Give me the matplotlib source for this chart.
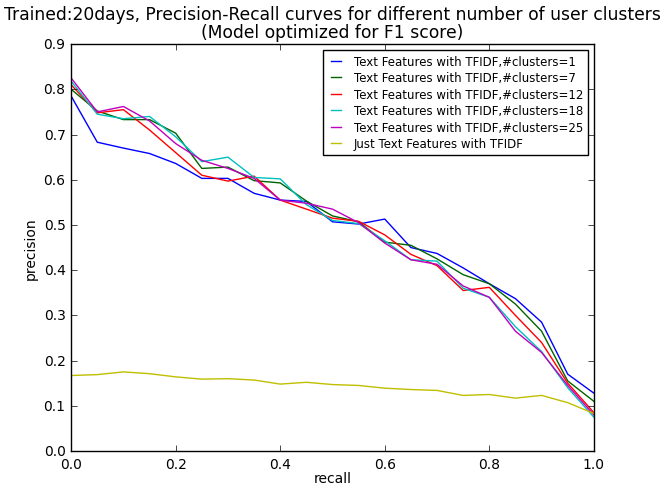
import matplotlib
matplotlib.use('Agg')
import matplotlib.pyplot as plt
import numpy as np

plt.style.use('classic')

recall = [0.0, 0.05, 0.1, 0.15, 0.2, 0.25, 0.3, 0.35, 0.4, 0.45, 0.5,
          0.55, 0.6, 0.65, 0.7, 0.75, 0.8, 0.85, 0.9, 0.95, 1.0]

prec_c1 = [0.785, 0.683, 0.670, 0.658, 0.636, 0.603, 0.603, 0.570, 0.555, 0.552, 0.507,
           0.502, 0.513, 0.450, 0.437, 0.405, 0.370, 0.337, 0.285, 0.170, 0.128]
prec_c7 = [0.800, 0.752, 0.733, 0.733, 0.703, 0.625, 0.628, 0.598, 0.593, 0.553, 0.520,
           0.507, 0.462, 0.455, 0.425, 0.390, 0.370, 0.325, 0.265, 0.155, 0.110]
prec_c12 = [0.810, 0.748, 0.755, 0.710, 0.660, 0.610, 0.597, 0.608, 0.555, 0.535, 0.515,
            0.508, 0.478, 0.435, 0.410, 0.355, 0.362, 0.300, 0.240, 0.150, 0.085]
prec_c18 = [0.818, 0.745, 0.735, 0.740, 0.695, 0.640, 0.650, 0.605, 0.602, 0.545, 0.510,
            0.503, 0.465, 0.423, 0.420, 0.360, 0.340, 0.275, 0.220, 0.140, 0.075]
prec_c25 = [0.825, 0.750, 0.762, 0.730, 0.680, 0.643, 0.625, 0.603, 0.555, 0.548, 0.535,
            0.505, 0.460, 0.423, 0.413, 0.365, 0.340, 0.265, 0.218, 0.145, 0.080]
prec_text = [0.167, 0.169, 0.175, 0.171, 0.164, 0.159, 0.160, 0.157, 0.148, 0.152, 0.147,
             0.145, 0.139, 0.136, 0.134, 0.123, 0.125, 0.117, 0.123, 0.107, 0.083]

labels = ['Text Features with TFIDF,#clusters=1',
          'Text Features with TFIDF,#clusters=7',
          'Text Features with TFIDF,#clusters=12',
          'Text Features with TFIDF,#clusters=18',
          'Text Features with TFIDF,#clusters=25',
          'Just Text Features with TFIDF']

fig = plt.figure(figsize=(6.65, 4.85), dpi=100, facecolor='white')
ax = fig.add_axes([0.107, 0.068, 0.786, 0.839])

series = [prec_c1, prec_c7, prec_c12, prec_c18, prec_c25, prec_text]
colors = ['b', '#006400', 'r', 'c', 'm', 'y']
for s, c, l in zip(series, colors, labels):
    ax.plot(recall, s, color=c, label=l, linewidth=1)

ax.set_xlim(0, 1.0)
ax.set_ylim(0, 0.9)
ax.set_xlabel('recall', fontsize=10, labelpad=0)
ax.set_ylabel('precision', fontsize=10, labelpad=4)
ax.tick_params(labelsize=10)
ax.set_title('Trained:20days, Precision-Recall curves for different number of user clusters\n(Model optimized for F1 score)',
             fontsize=12.3, linespacing=1.0)
ax.legend(loc='upper right', fontsize=8.5, borderaxespad=0.5, handlelength=1.4,
          labelspacing=0.3)

fig.savefig('out.png', dpi=100, facecolor='white')
